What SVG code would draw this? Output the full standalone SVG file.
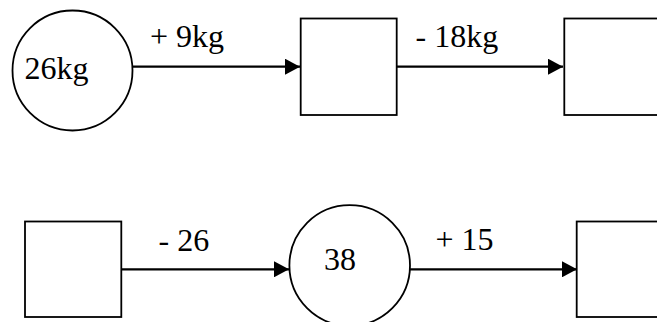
<svg xmlns="http://www.w3.org/2000/svg" width="657" height="322" viewBox="0 0 657 322">
<defs>
<style>
.shape{fill:#fff;stroke:#000;stroke-width:1.8}
.conn{stroke:#000;stroke-width:2.2;fill:none}
.t{font-family:"Liberation Serif","Times New Roman",serif;fill:#000;font-size:32px}
</style>
<marker id="arr" markerUnits="userSpaceOnUse" markerWidth="16" markerHeight="16" viewBox="0 0 16 16" refX="15" refY="8" orient="auto">
<path d="M0,0 L15,8 L0,16 Z" fill="#000"/>
</marker>
</defs>
<rect width="657" height="322" fill="#fff"/>
<g id="connectors">
<line class="conn" x1="133" y1="66.7" x2="300" y2="66.7" marker-end="url(#arr)"/>
<line class="conn" x1="397" y1="66.7" x2="563" y2="66.7" marker-end="url(#arr)"/>
<line class="conn" x1="121.5" y1="269.3" x2="289" y2="269.3" marker-end="url(#arr)"/>
<line class="conn" x1="410" y1="269.3" x2="577" y2="269.3" marker-end="url(#arr)"/>
</g>
<g id="label1"><text class="t" x="150" y="47">+ 9kg</text></g>
<g id="label2"><text class="t" x="415.5" y="47">- 18kg</text></g>
<g id="label3"><text class="t" x="158.5" y="251">- 26</text></g>
<g id="label4"><text class="t" x="435.5" y="249.5">+ 15</text></g>
<g id="node1">
<circle class="shape" cx="72.5" cy="70.5" r="60"/>
<text class="t" x="24.5" y="78.5">26kg</text>
</g>
<g id="node2"><rect class="shape" x="300.7" y="18.5" width="96" height="96.5"/></g>
<g id="node3"><rect class="shape" x="564.3" y="18.5" width="100" height="96.5"/></g>
<g id="node4"><rect class="shape" x="25" y="221.5" width="96.3" height="95.5"/></g>
<g id="node5">
<circle class="shape" cx="349.7" cy="265.5" r="60.3"/>
<text class="t" x="324" y="269.5">38</text>
</g>
<g id="node6"><rect class="shape" x="576.7" y="221.5" width="100" height="95.5"/></g>
</svg>
